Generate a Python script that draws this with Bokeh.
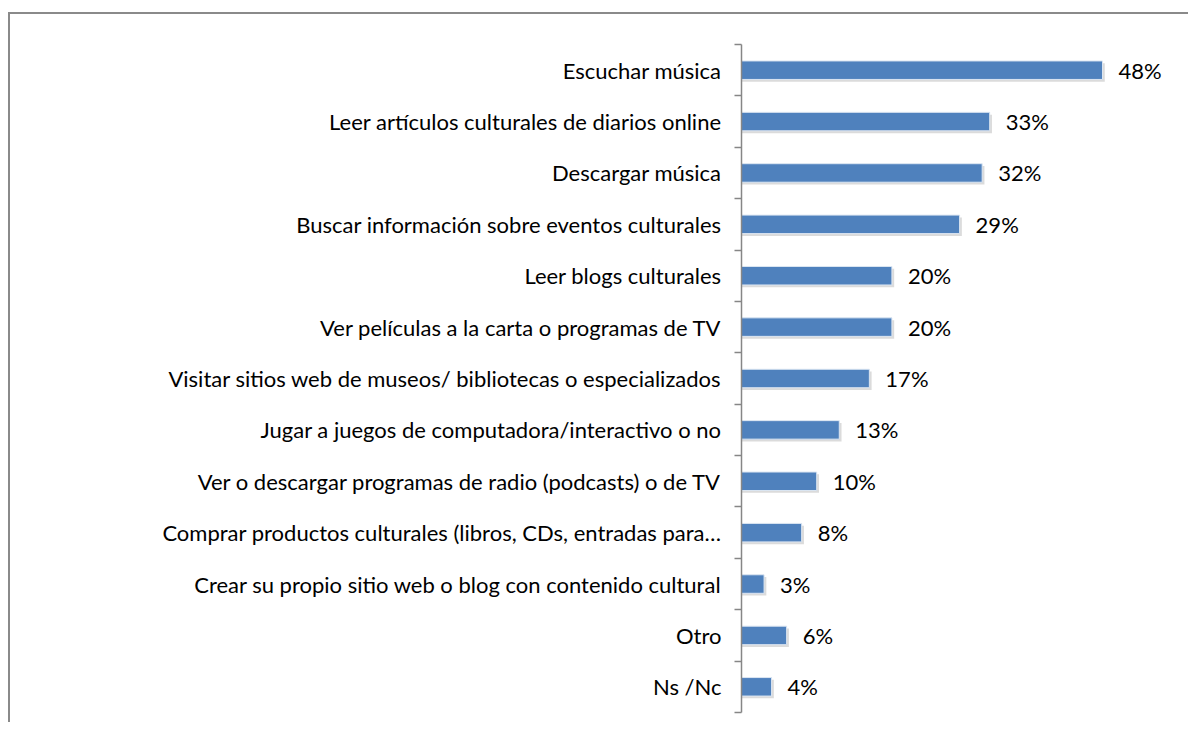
from bokeh.plotting import figure
from bokeh.models import Range1d, FixedTicker, ColumnDataSource
from bokeh.core.properties import value
from bokeh.embed import file_html
from bokeh.resources import INLINE

categories = [
    "Escuchar música",
    "Leer artículos culturales de diarios online",
    "Descargar música",
    "Buscar información sobre eventos culturales",
    "Leer blogs culturales",
    "Ver películas a la carta o programas de TV",
    "Visitar sitios web de museos/ bibliotecas o especializados",
    "Jugar a juegos de computadora/interactivo o no",
    "Ver o descargar programas de radio (podcasts) o de TV",
    "Comprar productos culturales (libros, CDs, entradas para…",
    "Crear su propio sitio web o blog con contenido cultural",
    "Otro",
    "Ns /Nc",
]
values = [48, 33, 32, 29, 20, 20, 17, 13, 10, 8, 3, 6, 4]
value_labels = [f"{v}%" for v in values]

n = len(categories)
ypos = [n - i - 0.5 for i in range(n)]
src = ColumnDataSource(dict(y=ypos, v=values, lab=value_labels, cat=categories))

FONT = "Lato"

p = figure(width=1180, height=710, output_backend="svg", toolbar_location=None,
           x_range=Range1d(0, 59.7), y_range=Range1d(0, n),
           min_border_left=731, min_border_top=30, min_border_bottom=12, min_border_right=0,
           background_fill_color="white", border_fill_color="white",
           styles={"margin-top": "12px", "margin-left": "8px",
                   "border-top": "2px solid #8a8a8a",
                   "border-left": "2px solid #8a8a8a"})
p.outline_line_color = None
p.grid.visible = False
p.xaxis.visible = False

# soft shadow
p.hbar(y=[y - 0.045 for y in ypos], right=[v + 0.3 for v in values], left=0, height=0.36,
       fill_color="#b8b8b8", fill_alpha=0.5, line_color=None)
p.hbar(y="y", right="v", left=0, height=0.36, source=src, fill_color="#4F81BD",
       line_color="#dce6f2", line_width=1)

p.text(x="v", y="y", text="lab", source=src, x_offset=16, text_align="left",
       text_baseline="middle", text_font=value(FONT), text_font_size="22px",
       text_color="#000000")

ax = p.yaxis[0]
ax.ticker = FixedTicker(ticks=ypos, minor_ticks=list(range(n + 1)))
ax.major_label_overrides = {y: c for y, c in zip(ypos, categories)}
ax.major_tick_line_color = None
ax.major_tick_in = 0
ax.major_tick_out = 0
ax.minor_tick_in = 0
ax.minor_tick_out = 7
ax.minor_tick_line_color = "#868686"
ax.minor_tick_line_width = 1.5
ax.axis_line_color = "#868686"
ax.axis_line_width = 1.5
ax.major_label_standoff = 13
ax.major_label_text_font = FONT
ax.major_label_text_font_size = "22px"
ax.major_label_text_color = "#000000"

open("out.html", "w").write(file_html(p, INLINE))
